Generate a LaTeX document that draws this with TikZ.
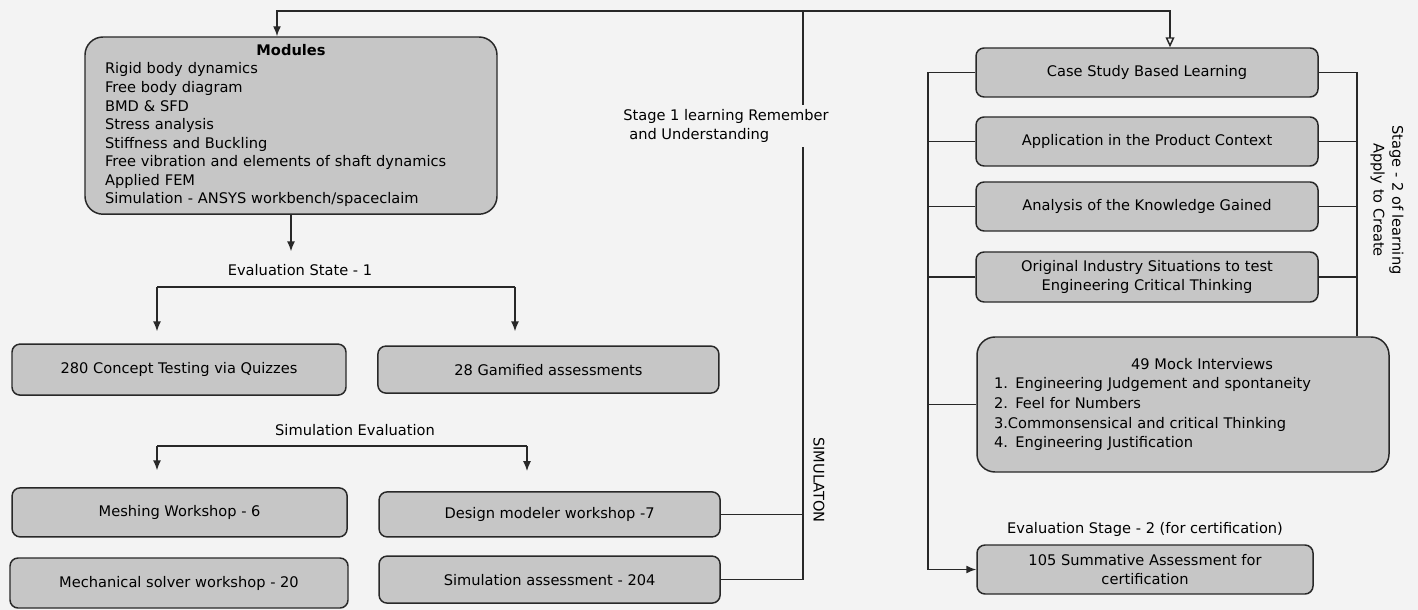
\documentclass[tikz,border=0pt]{standalone}
\usepackage{fontspec}
\setmainfont{DejaVu Sans}
\usetikzlibrary{arrows.meta}

\definecolor{boxgray}{RGB}{198,198,198}
\definecolor{linegray}{RGB}{40,40,40}
\definecolor{paper}{RGB}{243,243,243}

\begin{document}
\begin{tikzpicture}[
	font=\fontsize{10.4}{13.2}\selectfont,
	box/.style={draw=linegray, line width=1.05pt, fill=boxgray, rounded corners=0.2cm, align=center, inner sep=2pt},
	bigbox/.style={box, rounded corners=0.45cm, align=left},
	line/.style={draw=linegray, line width=1.05pt},
	arr/.style={-{Latex[length=2.5mm,width=2mm]}},
	]
	
	\fill[paper] (0,0) rectangle (35.45,-15.25);
	
	% stage 1
	\node[bigbox, minimum width=10.3cm, minimum height=4.43cm, text width=9.3cm] (mods) at (7.275,-3.14)
	{\makebox[9.3cm]{\textbf{Modules}}\\
	 Rigid body dynamics\\
	 Free body diagram\\
	 BMD \& SFD\\
	 Stress analysis\\
	 Stiffness and Buckling\\
	 Free vibration and elements of shaft dynamics\\
	 Applied FEM\\
	 Simulation - ANSYS workbench/spaceclaim};
	
	\node (ev1) at (7.5,-6.75) {Evaluation State - 1};
	\node[box, minimum width=8.35cm, minimum height=1.275cm] (quiz) at (4.475,-9.24) {280 Concept Testing via Quizzes};
	\node[box, minimum width=8.525cm, minimum height=1.175cm] (gam) at (13.71,-9.24) {28 Gamified assessments};
	
	\node (simev) at (8.875,-10.75) {Simulation Evaluation};
	\node[box, minimum width=8.375cm, minimum height=1.225cm] (mesh) at (4.49,-12.81) {Meshing Workshop - 6};
	\node[box, minimum width=8.45cm, minimum height=1.25cm] (mech) at (4.475,-14.575) {Mechanical solver workshop - 20};
	\node[box, minimum width=8.525cm, minimum height=1.125cm] (dmod) at (13.74,-12.86) {Design modeler workshop -7};
	\node[box, minimum width=8.525cm, minimum height=1.175cm] (sass) at (13.74,-14.49) {Simulation assessment - 204};
	
	\node[align=left] (stage1) at (18.15,-3.15) {Stage 1 learning Remember\\\hspace*{0.15cm}and Understanding};
	\node[rotate=-90] (simlbl) at (20.475,-12.0) {SIMULATON};
	
	% stage 2
	\node[box, minimum width=8.55cm, minimum height=1.225cm] (case) at (28.675,-1.8125) {Case Study Based Learning};
	\node[box, minimum width=8.55cm, minimum height=1.225cm] (appl) at (28.675,-3.5375) {Application in the Product Context};
	\node[box, minimum width=8.55cm, minimum height=1.225cm] (anal) at (28.675,-5.1625) {Analysis of the Knowledge Gained};
	\node[box, minimum width=8.55cm, minimum height=1.25cm] (orig) at (28.675,-6.925) {Original Industry Situations to test\\Engineering Critical Thinking};
	
	\node[bigbox, minimum width=10.3cm, minimum height=3.375cm, text width=9.45cm, font=\fontsize{10.4}{14}\selectfont] (mock) at (29.575,-10.1125)
	{\makebox[9.45cm]{\hspace*{0.95cm}49 Mock Interviews}\\
	 1. Engineering Judgement and spontaneity\\
	 2. Feel for Numbers\\
	 3.Commonsensical and critical Thinking\\
	 4. Engineering Justification};
	
	\node (ev2) at (28.625,-13.225) {Evaluation Stage - 2 (for certification)};
	\node[box, minimum width=8.4cm, minimum height=1.225cm] (summ) at (28.625,-14.2375) {105 Summative Assessment for\\certification};
	
	\node[rotate=-90, align=center] (stage2) at (34.675,-5.0) {Stage - 2 of learning\\Apply to Create};
	
	\coordinate (topj) at (20.075,-0.275);
	\coordinate (lbus) at (23.2,-1.8);
	\coordinate (rbus) at (33.925,-1.8);
	\coordinate (e1l) at (3.925,-7.175);
	\coordinate (e1r) at (12.875,-7.175);
	\coordinate (s1l) at (3.925,-11.15);
	\coordinate (s1r) at (13.175,-11.15);
	
	% top line and simulation line
	\draw[line, arr] (topj) -| ([xshift=-0.35cm]mods.north);
	\draw[line, -{Triangle[open,length=2.5mm,width=2.2mm]}] (topj) -| ([xshift=0.575cm]case.north);
	\draw[line] (topj) -- (topj |- stage1.north);
	\draw[line] (topj |- stage1.south) -- (topj |- sass.east) -- (sass.east);
	\draw[line] (dmod.east) -- (dmod.east -| topj);
	
	% evaluations
	\draw[line, arr, shorten >=0.2cm] (mods.south) -- (mods.south |- ev1.north);
	\draw[line] (e1l) -- (e1r);
	\draw[line, arr, shorten >=0.3cm] (e1l) -- (e1l |- quiz.north);
	\draw[line, arr, shorten >=0.35cm] (e1r) -- (e1r |- gam.north);
	\draw[line] (s1l) -- (s1r);
	\draw[line, arr, shorten >=0.42cm] (s1l) -- (s1l |- mesh.north);
	\draw[line, arr, shorten >=0.5cm] (s1r) -- (s1r |- dmod.north);
	
	% stage 2 buses
	\draw[line] (case.west) -- (case.west -| lbus) -- (lbus |- summ.west);
	\draw[line, arr] (lbus |- summ.west) -- (summ.west);
	\foreach \n in {appl,anal,orig,mock}
		\draw[line] (\n.west) -- (\n.west -| lbus);
	\draw[line] (case.east) -- (case.east -| rbus) -- (rbus |- mock.north);
	\foreach \n in {appl,anal,orig}
		\draw[line] (\n.east) -- (\n.east -| rbus);
	
\end{tikzpicture}
\end{document}
